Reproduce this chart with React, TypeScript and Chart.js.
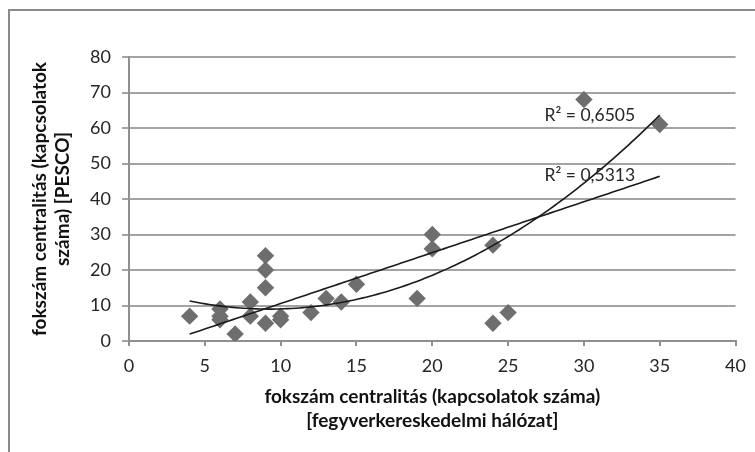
import React, { useEffect, useRef } from "react";
import { Chart, registerables } from "chart.js";

Chart.register(...registerables);

// Data
const xValues = [4, 6, 6, 6, 7, 8, 8, 9, 9, 9, 9, 10, 10, 12, 13, 14, 15, 19, 20, 20, 24, 24, 25, 30, 35];
const yValues = [7, 9, 7, 6, 2, 11, 7, 24, 20, 15, 5, 7, 6, 8, 12, 11, 16, 12, 30, 26, 27, 5, 8, 68, 61];

const xTickMin = 0;
const xTickMax = 40;
const xTickStep = 5;
const yTickMin = 0;
const yTickMax = 80;
const yTickStep = 10;

const yTitleLines = ["fokszám centralitás (kapcsolatok", "száma) [PESCO]"];
const xTitleLines = ["fokszám centralitás (kapcsolatok száma)", "[fegyverkereskedelmi hálózat]"];

const r2Labels = ["R² = 0,6505", "R² = 0,5313"];
const r2LabelX = [27.4, 27.4];
const r2LabelY = [63.6, 46.6];

// least-squares polynomial fit of given degree
function polyFit(xs: number[], ys: number[], degree: number): number[] {
  const m = degree + 1;
  const A: number[][] = [];
  for (let i = 0; i < m; i++) {
    const row: number[] = [];
    for (let j = 0; j < m; j++) {
      let s = 0;
      for (let k = 0; k < xs.length; k++) s += Math.pow(xs[k], i + j);
      row.push(s);
    }
    let b = 0;
    for (let k = 0; k < xs.length; k++) b += ys[k] * Math.pow(xs[k], i);
    row.push(b);
    A.push(row);
  }
  for (let c = 0; c < m; c++) {
    let p = c;
    for (let r = c + 1; r < m; r++) if (Math.abs(A[r][c]) > Math.abs(A[p][c])) p = r;
    [A[c], A[p]] = [A[p], A[c]];
    for (let r = 0; r < m; r++) {
      if (r === c) continue;
      const f = A[r][c] / A[c][c];
      for (let j = c; j <= m; j++) A[r][j] -= f * A[c][j];
    }
  }
  return A.map((row, i) => row[m] / row[i]);
}

function trendPoints(coef: number[]) {
  const lo = Math.min(...xValues);
  const hi = Math.max(...xValues);
  const pts: { x: number; y: number }[] = [];
  const n = 120;
  for (let i = 0; i <= n; i++) {
    const x = lo + ((hi - lo) * i) / n;
    let y = 0;
    coef.forEach((c, k) => (y += c * Math.pow(x, k)));
    pts.push({ x, y });
  }
  return pts;
}

const FONT = "Lato, 'Open Sans', sans-serif";

export default function App() {
  const ref = useRef<HTMLCanvasElement | null>(null);

  useEffect(() => {
    if (!ref.current) return;
    const points = xValues.map((x, i) => ({ x, y: yValues[i] }));
    const linCoef = polyFit(xValues, yValues, 1);
    const quadCoef = polyFit(xValues, yValues, 2);

    const frame = {
      id: "frame",
      beforeDraw(chart: any) {
        const ctx = chart.ctx;
        ctx.save();
        ctx.fillStyle = "#ffffff";
        ctx.fillRect(0, 0, chart.width, chart.height);
        ctx.strokeStyle = "#8a8a8a";
        ctx.lineWidth = 2;
        ctx.strokeRect(9, 10, chart.width + 20, chart.height + 20);
        ctx.restore();
      },
      afterDraw(chart: any) {
        const ctx = chart.ctx;
        const xs = chart.scales.x;
        const ys = chart.scales.y;
        ctx.save();
        ctx.font = `17.5px ${FONT}`;
        ctx.fillStyle = "#262626";
        ctx.textAlign = "left";
        ctx.textBaseline = "middle";
        r2Labels.forEach((t, i) => {
          ctx.fillText(t, xs.getPixelForValue(r2LabelX[i]), ys.getPixelForValue(r2LabelY[i]));
        });
        ctx.restore();
      },
    };

    const chart = new Chart(ref.current, {
      type: "scatter",
      data: {
        datasets: [
          {
            label: "poly",
            data: trendPoints(quadCoef),
            showLine: true,
            pointRadius: 0,
            borderColor: "#1a1a1a",
            borderWidth: 1.6,
            backgroundColor: "#1a1a1a",
          },
          {
            label: "linear",
            data: trendPoints(linCoef),
            showLine: true,
            pointRadius: 0,
            borderColor: "#1a1a1a",
            borderWidth: 1.6,
            backgroundColor: "#1a1a1a",
          },
          {
            label: "data",
            data: points,
            pointStyle: "rectRot",
            pointRadius: 8.7,
            borderWidth: 0,
            backgroundColor: "#6e6e6e",
            borderColor: "#6e6e6e",
          },
        ],
      },
      options: {
        responsive: false,
        animation: false,
        layout: { padding: { left: 0, top: 57, right: 18, bottom: 0 } },
        plugins: { legend: { display: false }, tooltip: { enabled: false } },
        scales: {
          x: {
            type: "linear",
            min: xTickMin,
            max: xTickMax,
            afterFit: (s: any) => {
              s.height = 111;
            },
            ticks: {
              stepSize: xTickStep,
              color: "#262626",
              font: { family: FONT, size: 18 },
              padding: 9,
              maxRotation: 0,
            },
            grid: { drawOnChartArea: false, drawTicks: true, tickLength: 5, color: "#8f8f8f", lineWidth: 2 },
            border: { display: true, color: "#8f8f8f", width: 2 },
            title: {
              display: true,
              text: xTitleLines,
              color: "#111111",
              font: { family: FONT, size: 19, weight: "bold", lineHeight: 1.26 },
              padding: { top: 0, bottom: 19 },
            },
          },
          y: {
            type: "linear",
            min: yTickMin,
            max: yTickMax,
            afterFit: (s: any) => {
              s.width = 129;
            },
            ticks: {
              stepSize: yTickStep,
              color: "#262626",
              font: { family: FONT, size: 18 },
              padding: 11,
            },
            grid: { color: "#a3a3a3", lineWidth: 2, drawTicks: true, tickLength: 7 },
            border: { display: true, color: "#8f8f8f", width: 2 },
            title: {
              display: true,
              text: yTitleLines,
              color: "#111111",
              font: { family: FONT, size: 19, weight: "bold", lineHeight: 1.21 },
              padding: { top: 28.5, bottom: 0 },
            },
          },
        },
      },
      plugins: [frame],
    } as any);

    return () => chart.destroy();
  }, []);

  return (
    <div style={{ position: "absolute", left: 0, top: 0, width: 755, height: 452 }}>
      <canvas ref={ref} width={755} height={452} />
    </div>
  );
}
